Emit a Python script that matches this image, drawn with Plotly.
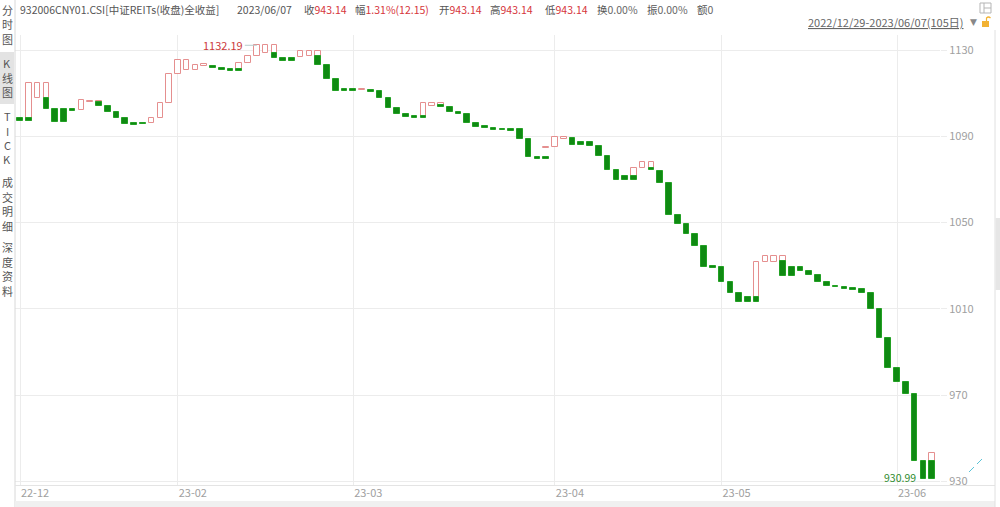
import plotly.graph_objects as go

# ---------------- data ----------------
dates = [
    "2022-12-29", "2022-12-30",
    "2023-01-03", "2023-01-04", "2023-01-05", "2023-01-06", "2023-01-09", "2023-01-10", "2023-01-11",
    "2023-01-12", "2023-01-13", "2023-01-16", "2023-01-17", "2023-01-18", "2023-01-19", "2023-01-20",
    "2023-01-30", "2023-01-31",
    "2023-02-01", "2023-02-02", "2023-02-03", "2023-02-06", "2023-02-07", "2023-02-08", "2023-02-09",
    "2023-02-10", "2023-02-13", "2023-02-14", "2023-02-15", "2023-02-16", "2023-02-17", "2023-02-20",
    "2023-02-21", "2023-02-22", "2023-02-23", "2023-02-24", "2023-02-27", "2023-02-28",
    "2023-03-01", "2023-03-02", "2023-03-03", "2023-03-06", "2023-03-07", "2023-03-08", "2023-03-09",
    "2023-03-10", "2023-03-13", "2023-03-14", "2023-03-15", "2023-03-16", "2023-03-17", "2023-03-20",
    "2023-03-21", "2023-03-22", "2023-03-23", "2023-03-24", "2023-03-27", "2023-03-28", "2023-03-29",
    "2023-03-30", "2023-03-31",
    "2023-04-03", "2023-04-04", "2023-04-06", "2023-04-07", "2023-04-10", "2023-04-11", "2023-04-12",
    "2023-04-13", "2023-04-14", "2023-04-17", "2023-04-18", "2023-04-19", "2023-04-20", "2023-04-21",
    "2023-04-24", "2023-04-25", "2023-04-26", "2023-04-27", "2023-04-28",
    "2023-05-04", "2023-05-05", "2023-05-08", "2023-05-09", "2023-05-10", "2023-05-11", "2023-05-12",
    "2023-05-15", "2023-05-16", "2023-05-17", "2023-05-18", "2023-05-19", "2023-05-22", "2023-05-23",
    "2023-05-24", "2023-05-25", "2023-05-26", "2023-05-29", "2023-05-30", "2023-05-31",
    "2023-06-01", "2023-06-02", "2023-06-05", "2023-06-06", "2023-06-07",
]

# hollow (red) bodies: bottom / top, None where the day shows no hollow body
up_open = [
    None, 1097.32, 1107.61, 1107.61, None, None, None, 1102.19, 1105.90, 1105.90,
    None, None, None, None, None, 1096.30, 1098.34, 1105.57, 1118.88, 1120.73,
    1120.73, 1122.58, None, None, None, 1121.19, 1123.84, 1127.22, 1128.75, 1128.75,
    None, None, 1126.89, 1127.22, 1127.22, None, None, None, None, 1111.32,
    None, None, None, None, None, None, 1098.81, 1104.04, 1104.37, None,
    None, None, None, None, None, None, None, None, None, None,
    1084.58, 1084.90, 1088.89, None, None, None, None, None, None, None,
    1071.74, 1075.17, 1075.17, None, None, None, None, None, None, None,
    None, None, None, None, 1015.65, 1031.88, 1031.88, 1032.34, None, None,
    None, None, None, None, None, None, None, None, None, None,
    None, None, None, None, 939.50,
]
up_close = [
    None, 1114.57, 1114.57, 1114.57, None, None, None, 1106.82, 1106.50, 1106.50,
    None, None, None, None, None, 1098.34, 1105.57, 1118.88, 1125.36, 1125.36,
    1123.05, 1123.37, None, None, None, 1123.84, 1127.22, 1132.19, 1132.19, 1132.19,
    None, None, 1129.68, 1129.68, 1129.68, None, None, None, None, 1112.06,
    None, None, None, None, None, None, 1105.57, 1105.57, 1105.57, None,
    None, None, None, None, None, None, None, None, None, None,
    1085.04, 1089.54, 1089.54, None, None, None, None, None, None, None,
    1075.45, 1077.95, 1077.95, None, None, None, None, None, None, None,
    None, None, None, None, 1031.88, 1034.52, 1034.52, 1034.52, None, None,
    None, None, None, None, None, None, None, None, None, None,
    None, None, None, None, 943.14,
]
# filled (green) bodies: top / bottom, None where the day shows no filled body
dn_open = [
    1098.71, 1098.71, None, 1107.61, 1102.51, 1102.51, 1102.51, None, None, 1105.90,
    1104.04, 1101.40, 1098.34, 1096.03, 1096.30, None, None, None, None, None,
    None, None, 1122.58, 1121.80, 1121.19, 1121.19, None, None, None, 1128.75,
    1126.43, 1126.43, None, None, 1127.22, 1123.05, 1116.42, 1111.78, 1111.78, None,
    1111.46, 1111.00, 1107.61, 1103.26, 1100.20, 1099.41, 1099.41, None, 1104.37, 1103.72,
    1101.40, 1100.48, 1096.03, 1094.63, 1093.71, 1093.52, 1093.52, 1093.24, 1088.61, 1080.54,
    1080.27, None, None, 1089.07, 1087.50, 1087.50, 1085.64, 1080.87, 1074.38, 1071.74,
    1071.74, None, 1075.17, 1074.06, 1068.49, 1053.52, 1049.35, 1044.72, 1039.15, 1029.88,
    1029.42, 1022.61, 1017.23, 1015.65, 1015.65, None, None, 1032.34, 1029.56, 1029.56,
    1027.71, 1025.71, 1022.61, 1020.75, 1020.15, 1019.55, 1019.22, 1017.51, 1009.95, 996.37,
    982.47, 976.26, 970.42, 939.50, 939.50,
]
dn_close = [
    1097.32, 1097.32, None, 1102.51, 1096.49, 1096.49, 1101.87, None, None, 1104.04,
    1101.40, 1098.34, 1095.56, 1095.38, 1095.70, None, None, None, None, None,
    None, None, 1121.52, 1120.73, 1120.13, 1120.13, None, None, None, 1126.15,
    1124.90, 1124.90, None, None, 1123.05, 1116.42, 1111.00, 1110.86, 1110.86, None,
    1110.67, 1107.61, 1103.26, 1100.20, 1098.81, 1098.48, 1098.48, None, 1103.72, 1101.12,
    1100.48, 1096.03, 1094.45, 1093.71, 1092.92, 1092.78, 1092.60, 1088.61, 1080.27, 1079.48,
    1079.34, None, None, 1085.97, 1085.97, 1085.64, 1080.87, 1074.38, 1069.74, 1069.74,
    1069.74, None, 1074.38, 1068.49, 1053.52, 1049.35, 1044.72, 1039.15, 1029.56, 1029.19,
    1022.61, 1017.23, 1013.34, 1013.34, 1013.34, None, None, 1025.25, 1025.25, 1027.71,
    1025.71, 1022.61, 1020.61, 1020.01, 1019.22, 1018.76, 1017.51, 1009.95, 996.37, 982.47,
    976.26, 970.42, 939.50, 930.99, 930.99,
]

price_ticks = [930, 970, 1010, 1050, 1090, 1130]
month_tick_dates = ["2022-12-29", "2023-02-01", "2023-03-01", "2023-04-03", "2023-05-04", "2023-06-01"]
month_tick_labels = ["22-12", "23-02", "23-03", "23-04", "23-05", "23-06"]

max_date, max_value = "2023-02-14", 1132.19
min_date, min_value = "2023-06-06", 930.99

header_name = "932006CNY01.CSI[中证REITs(收盘)全收益]"
header_date = "2023/06/07"
header_fields = [("收", "943.14", True), ("幅", "1.31%(12.15)", True), ("开", "943.14", True),
                 ("高", "943.14", True), ("低", "943.14", True), ("换", "0.00%", False),
                 ("振", "0.00%", False), ("额", "0", False)]
header_field_x = [302, 353, 437, 488, 543, 595, 645, 695]
period_text = "2022/12/29-2023/06/07(105日)"

side_menu = [("分时图", 10, False), ("K线图", 63, True), ("TICK", 116, False),
             ("成交明细", 182, False), ("深度资料", 247, False)]

# ---------------- styling ----------------
W, H = 1000, 507
L, R, T, B = 15, 940, 35, 485
UP = "#e58f8f"
DN_FILL = "#0f8a12"
DN_LINE = "#23a024"
GRID = "#ececec"
FONT = "Noto Sans CJK SC"


def px(xp):
    return (xp - L) / (R - L)


def py(yp):
    return (B - yp) / (B - T)


fig = go.Figure()

iu = [i for i in range(len(dates)) if up_open[i] is not None]
fig.add_trace(go.Bar(
    x=[dates[i] for i in iu],
    base=[up_open[i] for i in iu],
    y=[up_close[i] - up_open[i] for i in iu],
    width=0.64,
    marker=dict(color="white", line=dict(color=UP, width=1)),
    hoverinfo="skip", showlegend=False,
))
idn = [i for i in range(len(dates)) if dn_open[i] is not None]
fig.add_trace(go.Bar(
    x=[dates[i] for i in idn],
    base=[dn_close[i] for i in idn],
    y=[dn_open[i] - dn_close[i] for i in idn],
    width=0.64,
    marker=dict(color=DN_FILL, line=dict(color=DN_LINE, width=1)),
    hoverinfo="skip", showlegend=False,
))

x_lo = -5 / 8.77
x_hi = x_lo + (R - L) / 8.77
y_per_px = 40 / 86.3
y_top = 1130 + (50 - T) * y_per_px
y_bot = 1130 - (B - 50) * y_per_px

annotations = []
# header line
annotations.append(dict(x=px(18), y=py(9), xref="paper", yref="paper", xanchor="left", yanchor="middle",
                        text=header_name, showarrow=False, font=dict(size=10.5, color="#555555", family=FONT)))
annotations.append(dict(x=px(235), y=py(9), xref="paper", yref="paper", xanchor="left", yanchor="middle",
                        text=header_date, showarrow=False, font=dict(size=10.5, color="#555555", family=FONT)))
for (lab, val, red), xp in zip(header_fields, header_field_x):
    col = "#d6353b" if red else "#666666"
    annotations.append(dict(x=px(xp), y=py(9), xref="paper", yref="paper", xanchor="left", yanchor="middle",
                            text=f"{lab}<span style='color:{col}'>{val}</span>", showarrow=False,
                            font=dict(size=10.5, color="#555555", family=FONT)))
annotations.append(dict(x=px(966), y=py(22), xref="paper", yref="paper", xanchor="right", yanchor="middle",
                        text=period_text, showarrow=False,
                        font=dict(size=11, color="#666666", family=FONT, lineposition="under")))
annotations.append(dict(x=px(973), y=py(22), xref="paper", yref="paper", xanchor="center", yanchor="middle",
                        text="▼", showarrow=False, font=dict(size=9, color="#888888", family="DejaVu Sans")))
# side menu
for label, ystart, active in side_menu:
    step = 14.5
    for k, ch in enumerate(label):
        annotations.append(dict(x=px(7), y=py(ystart + k * step), xref="paper", yref="paper",
                                xanchor="center", yanchor="middle", text=ch, showarrow=False,
                                font=dict(size=11, color="#555555", family=FONT)))
# extreme labels
annotations.append(dict(x=max_date, y=max_value, xref="x", yref="y", text=str(max_value),
                        showarrow=True, arrowhead=0, arrowwidth=1, arrowcolor="#b8cccc",
                        ax=-12, ay=0, xanchor="right", yanchor="middle",
                        font=dict(size=11, color="#cc3a3a", family=FONT)))
annotations.append(dict(x=min_date, y=min_value, xref="x", yref="y", text=f"{min_value:.2f}",
                        showarrow=False, xanchor="right", yanchor="middle", xshift=-5, yshift=2,
                        font=dict(size=10.5, color="#2e8b2e", family=FONT)))

shapes = [
    # sidebar active background and divider
    dict(type="rect", xref="paper", yref="paper", x0=px(0), x1=px(14), y0=py(52), y1=py(104),
         fillcolor="#e3e3e3", line=dict(width=0), layer="below"),
    dict(type="line", xref="paper", yref="paper", x0=px(15), x1=px(15), y0=py(0), y1=py(507),
         line=dict(color="#d8d8d8", width=1)),
    # x axis base line and bottom band
    dict(type="line", xref="paper", yref="paper", x0=px(15), x1=px(995), y0=py(485.5), y1=py(485.5),
         line=dict(color="#e4e4e4", width=1)),
    dict(type="rect", xref="paper", yref="paper", x0=px(15), x1=px(995), y0=py(501), y1=py(507),
         fillcolor="#f0f0f0", line=dict(width=0)),
    # right scroll bar
    dict(type="line", xref="paper", yref="paper", x0=px(995), x1=px(995), y0=py(30), y1=py(507),
         line=dict(color="#e0e0e0", width=1)),
    dict(type="rect", xref="paper", yref="paper", x0=px(995.5), x1=px(1000), y0=py(218), y1=py(290),
         fillcolor="#e6e6e6", line=dict(width=0)),
    # top-right layout icon
    dict(type="rect", xref="paper", yref="paper", x0=px(980), x1=px(991), y0=py(3), y1=py(13),
         line=dict(color="#b5b5b5", width=1), fillcolor="rgba(0,0,0,0)"),
    dict(type="line", xref="paper", yref="paper", x0=px(984), x1=px(984), y0=py(3), y1=py(13),
         line=dict(color="#b5b5b5", width=1)),
    dict(type="line", xref="paper", yref="paper", x0=px(984), x1=px(991), y0=py(8), y1=py(8),
         line=dict(color="#b5b5b5", width=1)),
    # lock icon
    dict(type="rect", xref="paper", yref="paper", x0=px(982), x1=px(989), y0=py(21), y1=py(27),
         fillcolor="#f2b233", line=dict(width=0)),
    dict(type="path", xref="paper", yref="paper",
         path=f"M {px(986.5)},{py(21)} L {px(986.5)},{py(18)} Q {px(988.5)},{py(16)} {px(990.5)},{py(18)}",
         line=dict(color="#f2b233", width=1.2)),
    # collapse icon
    dict(type="line", xref="paper", yref="paper", x0=px(969), x1=px(974), y0=py(472), y1=py(467),
         line=dict(color="#5cc3d6", width=1)),
    dict(type="line", xref="paper", yref="paper", x0=px(977), x1=px(982), y0=py(464), y1=py(459),
         line=dict(color="#5cc3d6", width=1)),
]

fig.update_layout(
    width=W, height=H,
    margin=dict(l=L, r=W - R, t=T, b=H - B, autoexpand=False),
    paper_bgcolor="white", plot_bgcolor="white",
    barmode="overlay", bargap=0,
    font=dict(family=FONT, size=11, color="#999999"),
    xaxis=dict(type="category", categoryorder="array", categoryarray=dates, automargin=False,
               range=[x_lo, x_hi], tickmode="array", tickvals=month_tick_dates, ticktext=month_tick_labels,
               showgrid=True, gridcolor=GRID, gridwidth=1, ticks="", showline=False, zeroline=False,
               tickfont=dict(size=11, color="#a0a0a0"), ticklabelshift=15, fixedrange=True),
    yaxis=dict(side="right", range=[y_bot, y_top], tickmode="array", tickvals=price_ticks, automargin=False,
               showgrid=True, gridcolor=GRID, gridwidth=1, ticks="outside", ticklen=6, tickcolor=GRID,
               zeroline=False, showline=False, tickfont=dict(size=11, color="#a0a0a0"), fixedrange=True),
    annotations=annotations,
    shapes=shapes,
    hovermode=False,
)

fig.write_html("out.html", config={"displayModeBar": False},
               post_script="document.body.style.margin='0';document.body.style.overflow='hidden';")
